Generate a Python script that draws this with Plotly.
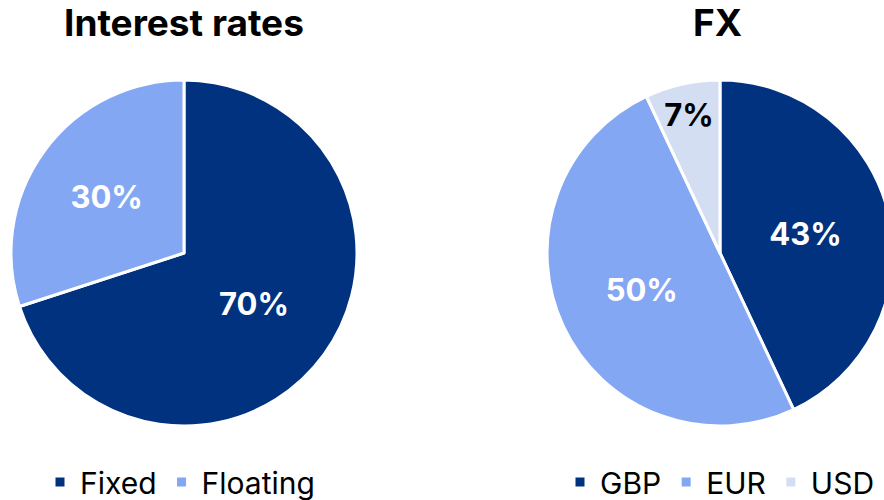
import plotly.graph_objects as go

W, H = 900, 500

ir_labels = ["Fixed", "Floating"]
ir_values = [70, 30]
ir_colors = ["#00327F", "#84A7F4"]

fx_labels = ["GBP", "EUR", "USD"]
fx_values = [43, 50, 7]
fx_colors = ["#00327F", "#84A7F4", "#D4DEF3"]

titles = ["Interest rates", "FX"]

FONT = "Inter"

def px_x(a, b):
    return [a / W, b / W]

def px_y(top, bottom):
    return [(H - bottom) / H, (H - top) / H]

fig = go.Figure()
fig.add_trace(go.Pie(
    labels=ir_labels, values=ir_values, sort=False, direction="clockwise", rotation=0,
    marker=dict(colors=ir_colors, line=dict(color="white", width=3)),
    texttemplate="%{value}%", textposition="inside",
    insidetextorientation="horizontal",
    textfont=dict(family=FONT, size=31, color=["white", "white"], weight="bold"),
    domain=dict(x=px_x(11, 357), y=px_y(80, 426)), legend="legend", hoverinfo="skip",
))
fig.add_trace(go.Pie(
    labels=fx_labels, values=fx_values, sort=False, direction="clockwise", rotation=0,
    marker=dict(colors=fx_colors, line=dict(color="white", width=3)),
    texttemplate="%{value}%", textposition="inside",
    insidetextorientation="horizontal",
    textfont=dict(family=FONT, size=31, color=["white", "white", "black"], weight="bold"),
    domain=dict(x=px_x(547, 893), y=px_y(80, 426)), legend="legend2", hoverinfo="skip",
))

fig.update_layout(
    width=W, height=H, margin=dict(l=0, r=0, t=0, b=0, autoexpand=False),
    paper_bgcolor="white", plot_bgcolor="white",
    font=dict(family=FONT, color="black"),
    legend=dict(orientation="h", x=40 / W, y=(H - 482) / H, xanchor="left", yanchor="middle",
                font=dict(size=30, family=FONT), itemwidth=30, traceorder="normal"),
    legend2=dict(orientation="h", x=560 / W, y=(H - 482) / H, xanchor="left", yanchor="middle",
                 font=dict(size=30, family=FONT), itemwidth=30, traceorder="normal"),
    annotations=[
        dict(text="<b>%s</b>" % titles[0], x=184 / W, y=(H - 22) / H, xref="paper", yref="paper",
             showarrow=False, font=dict(size=37, family=FONT), xanchor="center", yanchor="middle"),
        dict(text="<b>%s</b>" % titles[1], x=717 / W, y=(H - 22) / H, xref="paper", yref="paper",
             showarrow=False, font=dict(size=37, family=FONT), xanchor="center", yanchor="middle"),
    ],
)

page_js = """
document.documentElement.style.overflow = 'hidden';
document.body.style.overflow = 'hidden';
document.body.style.margin = '0';
"""

fig.write_html("out.html", config={"displayModeBar": False}, post_script=page_js)
